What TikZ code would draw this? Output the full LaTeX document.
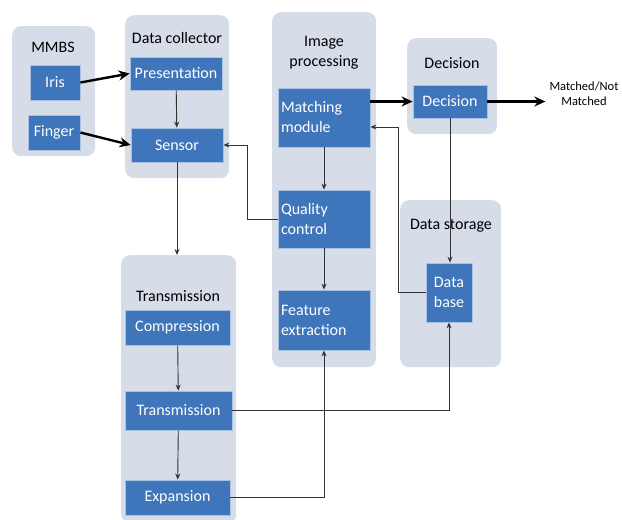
\documentclass[tikz,border=0pt]{standalone}
\usepackage{fontspec}
\setmainfont{Carlito}
\usetikzlibrary{arrows.meta,calc}
\definecolor{groupbg}{HTML}{D6DCE8}
\definecolor{blkfill}{HTML}{3F75BA}
\definecolor{blkedge}{HTML}{A9C2E4}
\tikzset{
  group/.style={fill=groupbg, draw=none, rounded corners=9pt, anchor=north west, inner sep=0pt},
  blk/.style={fill=blkfill, draw=blkedge, line width=0.8pt, text=white, inner sep=2pt,
              font=\fontsize{16}{20}\selectfont},
  glabel/.style={text=black, font=\fontsize{16}{20}\selectfont, align=center, inner sep=0pt},
  thin/.style={draw=black!80, line width=0.9pt, -{Stealth[length=6pt,width=5pt]}},
  bold/.style={draw=black, line width=2.4pt, -{Stealth[length=11pt,width=10pt]}}
}
\begin{document}
\begin{tikzpicture}[x=1pt,y=-1pt]
\useasboundingbox (0,0) rectangle (622,520);

% grouping panels
\node[group, minimum width=83pt, minimum height=130pt] (gmmbs) at (12,26) {};
\node[group, minimum width=104pt, minimum height=163pt] (gcoll) at (125,15) {};
\node[group, minimum width=104pt, minimum height=355pt] (gimg) at (272,12) {};
\node[group, minimum width=90pt, minimum height=96pt] (gdec) at (407,38) {};
\node[group, minimum width=101pt, minimum height=167pt] (gstore) at (400,200) {};
\node[group, minimum width=115pt, minimum height=268pt] (gtrans) at (121,255) {};

% panel titles
\node[glabel] (tmmbs) at (53,47) {MMBS};
\node[glabel] (tcoll) at (177,38) {Data collector};
\node[glabel] (timg) at (324,53) {Image\\processing};
\node[glabel] (tdec) at (452,63) {Decision};
\node[glabel] (tstore) at (451,226) {Data storage};
\node[glabel] (ttrans) at (178,296) {Transmission};

% blocks
\node[blk, minimum width=50pt, minimum height=35pt] (iris) at (55,82.5) {Iris};
\node[blk, minimum width=52pt, minimum height=35pt] (finger) at (54,132.5) {Finger};
\node[blk, minimum width=92pt, minimum height=33pt] (pres) at (176,73.5) {Presentation};
\node[blk, minimum width=92pt, minimum height=34pt] (sensor) at (177,145) {Sensor};
\node[blk, minimum width=92pt, minimum height=59pt, align=left, text width=86pt] (match) at (324,117.5) {Matching\\module};
\node[blk, minimum width=74pt, minimum height=33pt] (dec) at (450,101.5) {Decision};
\node[blk, minimum width=92pt, minimum height=58pt, align=left, text width=86pt] (qual) at (324,219) {Quality\\control};
\node[blk, minimum width=92pt, minimum height=60pt, align=left, text width=86pt] (feat) at (324,320) {Feature\\extraction};
\node[blk, minimum width=46pt, minimum height=59pt, align=center] (db) at (449,292.5) {Data\\base};
\node[blk, minimum width=105pt, minimum height=35pt] (comp) at (177.5,327.5) {Compression};
\node[blk, minimum width=107pt, minimum height=39pt] (trans) at (178.5,410.5) {Transmission};
\node[blk, minimum width=105pt, minimum height=35pt] (exp) at (177.5,497.5) {Expansion};

% output text
\node[glabel, font=\fontsize{12.5}{15}\selectfont] (out) at (584,94) {Matched/Not\\Matched};

% connectors
\draw[bold] (iris.east) -- (pres.west);
\draw[bold] (finger.east) -- (sensor.west);
\draw[thin] (pres) -- (sensor);
\draw[thin] (sensor.south) -- (sensor.south |- gtrans.north);
\draw[thin] (qual.west) -- ++(-30,0) |- (sensor.east);
\draw[thin] (match) -- (qual);
\draw[thin] (qual) -- (feat);
\draw[bold] (match.east |- dec.west) -- (dec.west);
\draw[bold] (dec.east) -- ++(58,0);
\draw[thin] (dec.south) -- (dec.south |- db.north);
\draw[thin] (db.west) -- ++(-27,0) |- ([yshift=-9.5pt]match.east);
\draw[thin] (trans.east) -| (db.south);
\draw[thin] (exp.east) -| (feat.south);
\draw[thin] (comp) -- (trans);
\draw[thin] (trans) -- (exp);
\end{tikzpicture}
\end{document}
